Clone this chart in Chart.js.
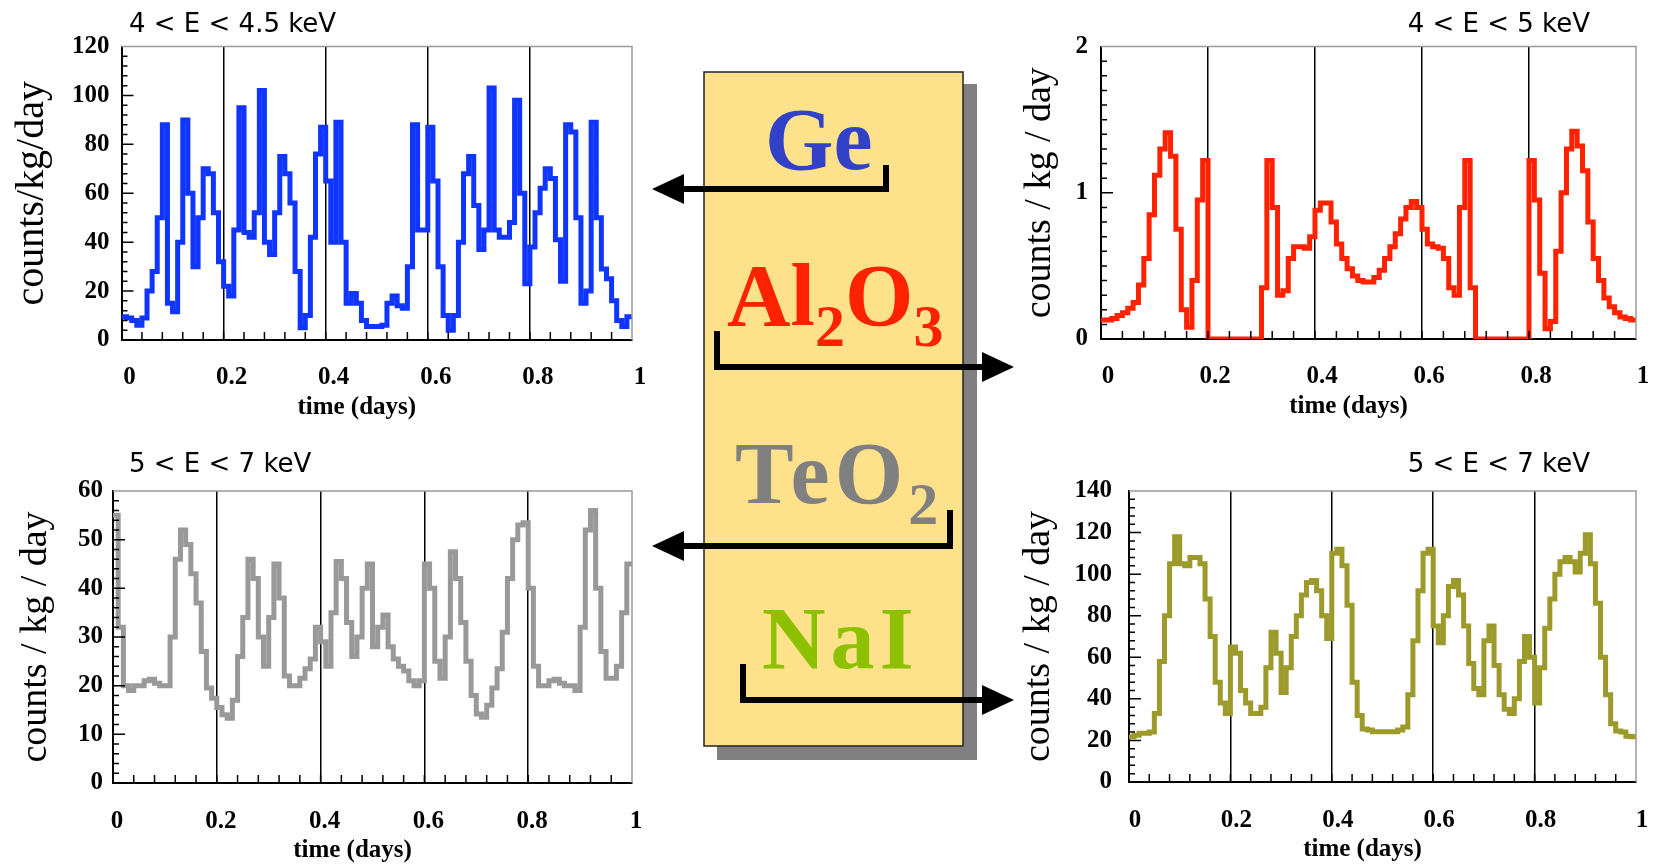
<!DOCTYPE html>
<html>
<head>
<meta charset="utf-8">
<script src="https://cdn.jsdelivr.net/npm/chart.js@4.4.1/dist/chart.umd.min.js"></script>
<style>
html,body{margin:0;padding:0;background:#fff;width:1657px;height:866px;overflow:hidden;}
.panel{position:absolute;}
#overlay{position:absolute;left:0;top:0;}
</style>
</head>
<body>
<div class="panel" style="left:0;top:0;width:650px;height:430px"><canvas id="cGe"></canvas></div>
<div class="panel" style="left:1000px;top:0;width:657px;height:430px"><canvas id="cAl"></canvas></div>
<div class="panel" style="left:0;top:430px;width:650px;height:436px"><canvas id="cTe"></canvas></div>
<div class="panel" style="left:1000px;top:430px;width:657px;height:436px"><canvas id="cNa"></canvas></div>

<svg id="overlay" width="1657" height="866" xmlns="http://www.w3.org/2000/svg">
  <rect x="717" y="84" width="260" height="676" fill="#808080"/>
  <rect x="704" y="72" width="259" height="674" fill="#fde28b" stroke="#222" stroke-width="1.5"/>
  <g font-family="'Liberation Serif', serif" font-weight="bold">
    <text x="765" y="169" font-size="88" fill="#3242c8">Ge</text>
    <text x="727" y="325" font-size="88" fill="#ff2200">Al<tspan dy="21" font-size="60">2</tspan><tspan dy="-21" font-size="88">O</tspan><tspan dy="21" font-size="60">3</tspan></text>
    <text x="735" y="503" font-size="88" fill="#808080" letter-spacing="5">TeO<tspan dy="21" font-size="60">2</tspan></text>
    <text x="762" y="668" font-size="88" fill="#8dc100" letter-spacing="5">NaI</text>
  </g>
  <g fill="none" stroke="#000" stroke-width="6" stroke-linejoin="miter" stroke-linecap="butt">
    <polyline points="886,165 886,189 680,189"/>
    <polyline points="717,331 717,367 986,367"/>
    <polyline points="950,510 950,546 680,546"/>
    <polyline points="743,664 743,700 986,700"/>
  </g>
  <g fill="#000">
    <polygon points="652,189 684,174 684,204"/>
    <polygon points="1014,367 982,352 982,382"/>
    <polygon points="652,546 684,531 684,561"/>
    <polygon points="1014,700 982,685 982,715"/>
  </g>
</svg>

<script>
// ---- data (bin width 0.01 day, 100 bins from 0 to 1 day) ----
const binWidth = 0.01;
const xTicks = [0, 0.2, 0.4, 0.6, 0.8, 1];

const geCounts = [
  9.5, 9, 8, 6, 9, 20, 28, 50, 88, 15,
  11.5, 40, 90, 60, 30, 50, 70, 68, 52, 32,
  22, 18, 45, 95, 44, 42, 52, 102, 40, 35,
  52, 75, 68, 56, 28, 5, 10, 42, 76, 87,
  65, 40, 89, 40, 15, 19, 15, 8, 5.5, 5.5,
  5.5, 6, 15, 18, 14, 13, 30, 88, 45, 45,
  87, 65, 30, 10, 4, 10, 40, 68, 75, 55,
  37, 45, 103, 45, 42, 42, 48, 98, 60, 23,
  38, 52, 62, 70, 66, 41, 24, 88, 85, 50,
  15, 20, 89, 50, 29, 25, 16, 8, 5.5, 9.5
];

const al2o3Counts = [
  0.13, 0.13, 0.14, 0.16, 0.18, 0.21, 0.25, 0.37, 0.55, 0.85,
  1.12, 1.3, 1.41, 1.25, 0.75, 0.2, 0.08, 0.4, 0.95, 1.22,
  0, 0, 0, 0, 0, 0, 0, 0, 0, 0,
  0.35, 1.22, 0.9, 0.3, 0.33, 0.55, 0.63, 0.63, 0.62, 0.7,
  0.88, 0.93, 0.93, 0.8, 0.65, 0.55, 0.48, 0.43, 0.4, 0.39,
  0.39, 0.42, 0.47, 0.55, 0.63, 0.72, 0.82, 0.9, 0.94, 0.9,
  0.75, 0.65, 0.63, 0.62, 0.55, 0.35, 0.3, 0.9, 1.22, 0.35,
  0, 0, 0, 0, 0, 0, 0, 0, 0, 0,
  1.22, 0.95, 0.45, 0.07, 0.12, 0.6, 1.0, 1.3, 1.42, 1.32,
  1.15, 0.8, 0.55, 0.4, 0.28, 0.22, 0.18, 0.15, 0.14, 0.13
];

const teo2Counts = [
  55, 32, 20, 19, 20, 20, 21, 21.3, 20.5, 20,
  20, 30, 46, 52, 49, 43, 37, 27, 19.5, 17.4,
  15.5, 14, 13.3, 17, 26, 34, 46, 42, 30, 24,
  34, 45, 38, 22, 20, 20, 21.5, 23.5, 25.5, 32,
  29, 24, 35, 45.5, 42, 33, 26, 30, 40, 45,
  28, 32, 34.5, 28, 25.5, 24, 23, 21, 20, 21,
  45, 40, 25, 21.5, 30, 47.5, 42, 33, 25, 18,
  14.2, 13.5, 16, 19.5, 23.5, 31, 42, 50, 53, 53.5,
  40, 24, 20, 20, 21, 21.3, 20.5, 20, 20, 19,
  32, 52, 56, 40, 27, 21.5, 21.5, 24, 35, 45
];

const naiCounts = [
  21.8, 22.5, 23.4, 23.4, 24, 33, 58, 80, 105, 118,
  105, 104, 108, 108, 105, 88, 70, 48, 38, 33,
  65, 62, 44, 38, 33, 33, 36, 55, 72, 62,
  43, 55, 70, 80, 90, 96, 97, 92, 80, 69,
  110, 112, 104, 85, 48, 32, 25.5, 25, 24.2, 24.2,
  24.2, 24.2, 24.2, 25, 26.5, 42, 68, 92, 110, 112,
  75, 67, 80, 94, 97, 90, 75, 57, 45, 42,
  68, 75, 56, 42, 35, 33, 40, 58, 70, 60,
  38, 55, 74, 88, 100, 106, 108, 106, 101, 110,
  119, 105, 86, 60, 42, 28, 24.5, 24, 22, 21.8
];

const panelTitles = ['4 < E < 4.5 keV', '4 < E < 5 keV', '5 < E < 7 keV', '5 < E < 7 keV'];
const xAxisTitle = 'time (days)';
const yAxisTitles = ['counts/kg/day', 'counts / kg / day', 'counts / kg / day', 'counts / kg / day'];

// ---- helpers ----
function stepPoints(counts) {
  const pts = counts.map((v, i) => ({ x: i * binWidth, y: v }));
  pts.push({ x: counts.length * binWidth, y: counts[counts.length - 1] });
  return pts;
}

const decoPlugin = {
  id: 'deco',
  afterDraw(chart, args, o) {
    const { ctx, chartArea: a } = chart;
    const xs = chart.scales.x, ys = chart.scales.y;
    ctx.save();
    // light frame top/right
    ctx.strokeStyle = '#9a9a9a';
    ctx.lineWidth = 1.5;
    ctx.beginPath();
    ctx.moveTo(a.left, a.top); ctx.lineTo(a.right, a.top); ctx.lineTo(a.right, a.bottom);
    ctx.stroke();
    // inward tick marks
    ctx.strokeStyle = '#000';
    ctx.lineWidth = 1.5;
    ctx.beginPath();
    const nx = Math.round((xs.max - xs.min) / o.xMinor);
    for (let k = 1; k < nx; k++) {
      const px = xs.getPixelForValue(xs.min + k * o.xMinor);
      ctx.moveTo(px, a.bottom); ctx.lineTo(px, a.bottom - 8);
    }
    const ny = Math.round((ys.max - ys.min) / o.yMinor);
    const per = Math.round(o.yMajor / o.yMinor);
    for (let k = 1; k < ny; k++) {
      const py = ys.getPixelForValue(ys.min + k * o.yMinor);
      const len = (k % per === 0) ? 12 : 6;
      ctx.moveTo(a.left, py); ctx.lineTo(a.left + len, py);
    }
    ctx.stroke();
    // panel title
    ctx.fillStyle = '#000';
    ctx.font = '26px "DejaVu Sans", sans-serif';
    ctx.textBaseline = 'middle';
    ctx.textAlign = o.titleAlign;
    const tx = o.titleAlign === 'left' ? a.left + o.titleDx : a.right - o.titleDx;
    ctx.fillText(o.title, tx, o.titleY);
    // x axis title
    ctx.font = 'bold 25px "Liberation Serif", serif';
    ctx.textAlign = 'center';
    ctx.fillText(xAxisTitle, (a.left + a.right) / 2 - 20, a.bottom + 68);
    ctx.restore();
  }
};

const tickFont = { family: "'Liberation Serif', serif", size: 25, weight: 'bold' };

function makeChart(id, counts, color, c) {
  return new Chart(document.getElementById(id), {
    type: 'line',
    data: {
      datasets: [{
        data: stepPoints(counts),
        borderColor: color,
        borderWidth: 5,
        pointRadius: 0,
        stepped: true,
        fill: false,
        borderJoinStyle: 'miter'
      }]
    },
    options: {
      responsive: true,
      maintainAspectRatio: false,
      animation: false,
      events: [],
      layout: { padding: { top: c.top, right: c.right, left: 0, bottom: 0 } },
      plugins: {
        legend: { display: false },
        tooltip: { enabled: false },
        title: { display: false },
        deco: {
          title: c.title, titleAlign: c.titleAlign, titleDx: c.titleDx, titleY: c.titleY,
          xMinor: 0.04, yMinor: c.yMinor, yMajor: c.yStep
        }
      },
      scales: {
        x: {
          type: 'linear', min: 0, max: 1,
          afterFit: s => { s.height = c.xH; },
          afterBuildTicks: s => { s.ticks = xTicks.map(v => ({ value: v })); },
          ticks: {
            padding: 3, labelOffset: c.lo, font: tickFont, color: '#000',
            maxRotation: 0, autoSkip: false,
            callback: v => String(Math.round(v * 10) / 10)
          },
          grid: {
            drawTicks: true, tickLength: c.tl, tickColor: 'rgba(0,0,0,0)', lineWidth: 1.5,
            color: ctx => (ctx.tick && ctx.tick.value > 0.01 && ctx.tick.value < 0.99) ? '#000' : 'rgba(0,0,0,0)'
          },
          border: { color: '#000', width: 2 }
        },
        y: {
          min: 0, max: c.yMax,
          afterFit: s => { s.width = c.yW; },
          ticks: { stepSize: c.yStep, padding: c.yPad, font: tickFont, color: '#000' },
          grid: { drawOnChartArea: false, drawTicks: false },
          border: { color: '#000', width: 2 },
          title: {
            display: true, text: c.yTitle, color: '#000',
            font: { family: "'Liberation Serif', serif", size: c.ytSize, lineHeight: 1 },
            padding: { top: c.ytPad, bottom: 0 }
          }
        }
      }
    },
    plugins: [decoPlugin]
  });
}

makeChart('cGe', geCounts, '#1035ff', {
  top: 46.5, right: 18, xH: 90, yW: 121.5, yMax: 120, yStep: 20, yMinor: 4, yPad: 12,
  lo: 8, tl: 20, yTitle: yAxisTitles[0], ytSize: 40, ytPad: 12,
  title: panelTitles[0], titleAlign: 'left', titleDx: 7.5, titleY: 25
});
makeChart('cAl', al2o3Counts, '#ff2200', {
  top: 46.5, right: 21, xH: 91, yW: 101, yMax: 2, yStep: 1, yMinor: 0.1, yPad: 13,
  lo: 7, tl: 20, yTitle: yAxisTitles[1], ytSize: 38, ytPad: 21,
  title: panelTitles[1], titleAlign: 'right', titleDx: 46, titleY: 25
});
makeChart('cTe', teo2Counts, '#999999', {
  top: 61, right: 18, xH: 83, yW: 113, yMax: 60, yStep: 10, yMinor: 2, yPad: 10,
  lo: 4, tl: 21, yTitle: yAxisTitles[2], ytSize: 38, ytPad: 17,
  title: panelTitles[2], titleAlign: 'left', titleDx: 16, titleY: 35
});
makeChart('cNa', naiCounts, '#9b9a2a', {
  top: 61, right: 21, xH: 84, yW: 129, yMax: 140, yStep: 20, yMinor: 4, yPad: 17,
  lo: 6, tl: 21, yTitle: yAxisTitles[3], ytSize: 38, ytPad: 20,
  title: panelTitles[3], titleAlign: 'right', titleDx: 46, titleY: 35
});
</script>
</body>
</html>
